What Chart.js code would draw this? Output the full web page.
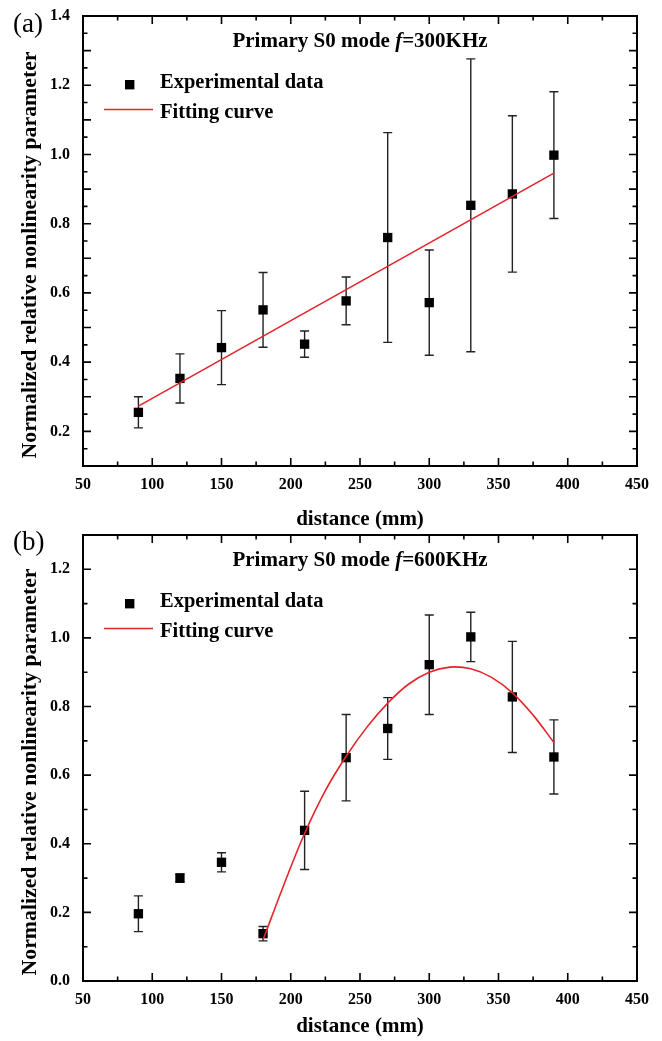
<!DOCTYPE html>
<html>
<head>
<meta charset="utf-8">
<script src="https://cdn.jsdelivr.net/npm/chart.js@4.4.0/dist/chart.umd.min.js"></script>
<style>
  body { margin: 0; background: #fff; }
  canvas { position: absolute; left: 0; }
  #chartA { top: 0; }
  #chartB { top: 520px; }
</style>
</head>
<body>
<canvas id="chartA" width="662" height="530"></canvas>
<canvas id="chartB" width="662" height="521"></canvas>
<script>
// distances where the measurements were taken (mm)
const distance = [90, 120, 150, 180, 210, 240, 270, 300, 330, 360, 390];

// (a) f = 300 KHz
const betaA = [0.255, 0.353, 0.442, 0.551, 0.452, 0.577, 0.760, 0.572, 0.853, 0.886, 0.998];
const errA  = [0.045, 0.071, 0.107, 0.108, 0.038, 0.069, 0.303, 0.152, 0.423, 0.226, 0.183];
const fitXA = [90, 390];
const fitYA = [0.273, 0.946];

// (b) f = 600 KHz
const betaB = [0.196, 0.300, 0.346, 0.138, 0.439, 0.651, 0.736, 0.922, 1.003, 0.828, 0.653];
const errB  = [0.052, 0.012, 0.028, 0.021, 0.114, 0.126, 0.090, 0.145, 0.072, 0.162, 0.108];
const fitXB = [180, 195, 210, 225, 240, 255, 270, 285, 300, 315, 330, 345, 360, 375, 390];
const fitYB = [0.12, 0.28, 0.43, 0.555, 0.655, 0.74, 0.81, 0.865, 0.90, 0.915, 0.91, 0.885, 0.84, 0.775, 0.695];

// tick labels
const xTicks  = [50, 100, 150, 200, 250, 300, 350, 400, 450];
const yTicksA = [0.2, 0.4, 0.6, 0.8, 1.0, 1.2, 1.4];
const yTicksB = [0.0, 0.2, 0.4, 0.6, 0.8, 1.0, 1.2];

const xTitle = 'distance (mm)';
const yTitle = 'Normalized relative nonlinearity parameter';
const RED = '#e3242b';
const SERIF = "'Liberation Serif', 'Times New Roman', serif";

Chart.defaults.font.family = SERIF;
Chart.defaults.color = '#000';

// vertical error bars, drawn under the squares
const errorBars = {
    id: 'errorBars',
    beforeDatasetsDraw(chart) {
        const { ctx, scales: { x, y } } = chart;
        const ds = chart.data.datasets.find(d => d.err);
        if (!ds) return;
        ctx.save();
        ctx.strokeStyle = '#222';
        ctx.lineWidth = 1.4;
        ds.data.forEach((p, i) => {
            const e = ds.err[i];
            const px = x.getPixelForValue(p.x);
            const top = y.getPixelForValue(p.y + e);
            const bot = y.getPixelForValue(p.y - e);
            ctx.beginPath();
            ctx.moveTo(px, top); ctx.lineTo(px, bot);
            ctx.moveTo(px - 4.5, top); ctx.lineTo(px + 4.5, top);
            ctx.moveTo(px - 4.5, bot); ctx.lineTo(px + 4.5, bot);
            ctx.stroke();
        });
        ctx.restore();
    }
};

// box around the plot with inward ticks on all four sides
const frame = {
    id: 'frame',
    afterDatasetsDraw(chart, args, o) {
        const { ctx, chartArea: a, scales: { x, y } } = chart;
        const isMajor = (v, m) => Math.abs(v / m - Math.round(v / m)) < 1e-6;
        ctx.save();
        ctx.strokeStyle = '#000';
        ctx.lineWidth = 1.6;
        ctx.beginPath();
        const nx = Math.round((x.max - x.min) / o.xStep);
        for (let i = 0; i <= nx; i++) {
            const v = x.min + i * o.xStep;
            const px = x.getPixelForValue(v);
            const len = isMajor(v, o.xMajor) ? 8 : 4.5;
            ctx.moveTo(px, a.bottom); ctx.lineTo(px, a.bottom - len);
            ctx.moveTo(px, a.top); ctx.lineTo(px, a.top + len);
        }
        const ny = Math.round((y.max - y.min) / o.yStep);
        for (let i = 0; i <= ny; i++) {
            const v = y.min + i * o.yStep;
            const py = y.getPixelForValue(v);
            const len = isMajor(v, o.yMajor) ? 8 : 4.5;
            ctx.moveTo(a.left, py); ctx.lineTo(a.left + len, py);
            ctx.moveTo(a.right, py); ctx.lineTo(a.right - len, py);
        }
        ctx.stroke();
        ctx.lineWidth = 2;
        ctx.strokeRect(a.left, a.top, a.right - a.left, a.bottom - a.top);
        ctx.restore();
    }
};

// panel letter, y title, in-plot title and legend
const labels = {
    id: 'labels',
    afterDraw(chart, args, o) {
        const { ctx, chartArea: a } = chart;
        ctx.save();
        ctx.fillStyle = '#000';
        ctx.textBaseline = 'alphabetic';

        ctx.font = `27px ${SERIF}`;
        ctx.textAlign = 'left';
        ctx.fillText(o.panel, 13, o.panelY);

        // y axis title, sits a little below the middle of the axis in the original
        ctx.save();
        ctx.translate(30, (a.top + a.bottom) / 2 + 14);
        ctx.rotate(-Math.PI / 2);
        ctx.font = `bold 21.8px ${SERIF}`;
        ctx.textAlign = 'center';
        ctx.textBaseline = 'middle';
        ctx.fillText(yTitle, 0, 0);
        ctx.restore();

        // title with italic f
        const parts = [['Primary S0 mode ', 'bold'], ['f', 'italic bold'], ['=' + o.freq, 'bold']];
        let total = 0;
        parts.forEach(p => { ctx.font = `${p[1]} 21px ${SERIF}`; total += ctx.measureText(p[0]).width; });
        let tx = (a.left + a.right) / 2 - total / 2;
        parts.forEach(p => {
            ctx.font = `${p[1]} 21px ${SERIF}`;
            ctx.fillText(p[0], tx, a.top + 30.5);
            tx += ctx.measureText(p[0]).width;
        });

        // legend
        const pts = chart.data.datasets.find(d => d.err);
        const fit = chart.data.datasets.find(d => !d.err);
        ctx.font = `bold 20.5px ${SERIF}`;
        ctx.fillRect(a.left + 42, a.top + 64, 9.4, 9.4);
        ctx.fillText(pts.label, a.left + 77, a.top + 72);
        ctx.strokeStyle = fit.borderColor;
        ctx.lineWidth = 1.6;
        ctx.beginPath();
        ctx.moveTo(a.left + 21, a.top + 93.5);
        ctx.lineTo(a.left + 70, a.top + 93.5);
        ctx.stroke();
        ctx.fillText(fit.label, a.left + 77, a.top + 101.5);
        ctx.restore();
    }
};

function makeChart(id, cfg) {
    return new Chart(document.getElementById(id), {
        type: 'scatter',
        data: {
            datasets: [
                {
                    label: 'Fitting curve',
                    data: cfg.fitX.map((x, i) => ({ x, y: cfg.fitY[i] })),
                    showLine: true,
                    borderColor: RED,
                    borderWidth: 1.6,
                    pointRadius: 0,
                    tension: 0.4,
                    order: 0
                },
                {
                    label: 'Experimental data',
                    data: distance.map((x, i) => ({ x, y: cfg.beta[i] })),
                    err: cfg.err,
                    pointStyle: 'rect',
                    pointRadius: 6.6,
                    backgroundColor: '#000',
                    borderColor: '#000',
                    borderWidth: 0,
                    order: 1
                }
            ]
        },
        options: {
            responsive: false,
            animation: false,
            layout: { padding: { top: cfg.top, right: 25, left: 0, bottom: 0 } },
            scales: {
                x: {
                    type: 'linear',
                    min: 50, max: 450,
                    grid: { display: false, drawTicks: false },
                    border: { display: false },
                    afterBuildTicks: s => { s.ticks = xTicks.map(v => ({ value: v })); },
                    afterFit: s => { s.height = cfg.xh; s.paddingLeft = 0; s.paddingRight = 0; },
                    ticks: { padding: 9, color: '#000', font: { size: 16, weight: 'bold' }, callback: v => String(v) },
                    title: {
                        display: true, text: xTitle, color: '#000',
                        font: { size: 21, weight: 'bold', lineHeight: 1 },
                        padding: { top: 0, bottom: cfg.xTitlePad }
                    }
                },
                y: {
                    type: 'linear',
                    min: cfg.yMin, max: cfg.yMax,
                    grid: { display: false, drawTicks: false },
                    border: { display: false },
                    afterBuildTicks: s => { s.ticks = cfg.yTicks.map(v => ({ value: v })); },
                    afterFit: s => { s.width = 83; s.paddingTop = 0; s.paddingBottom = 0; },
                    ticks: { padding: 13, color: '#000', font: { size: 16, weight: 'bold' }, callback: v => v.toFixed(1) }
                }
            },
            plugins: {
                legend: { display: false },
                tooltip: { enabled: false },
                frame: { xStep: 25, xMajor: 50, yStep: cfg.yStep, yMajor: cfg.yMajor },
                labels: { panel: cfg.panel, panelY: cfg.panelY, freq: cfg.freq }
            }
        },
        plugins: [errorBars, frame, labels]
    });
}

makeChart('chartA', {
    beta: betaA, err: errA, fitX: fitXA, fitY: fitYA, yTicks: yTicksA,
    yMin: 0.1, yMax: 1.4, yStep: 0.05, yMajor: 0.1,
    top: 16, xh: 64, xTitlePad: 0,
    panel: '(a)', panelY: 32, freq: '300KHz'
});

makeChart('chartB', {
    beta: betaB, err: errB, fitX: fitXB, fitY: fitYB, yTicks: yTicksB,
    yMin: 0.0, yMax: 1.3, yStep: 0.1, yMajor: 0.2,
    top: 15, xh: 60, xTitlePad: 3.5,
    panel: '(b)', panelY: 30, freq: '600KHz'
});
</script>
</body>
</html>
